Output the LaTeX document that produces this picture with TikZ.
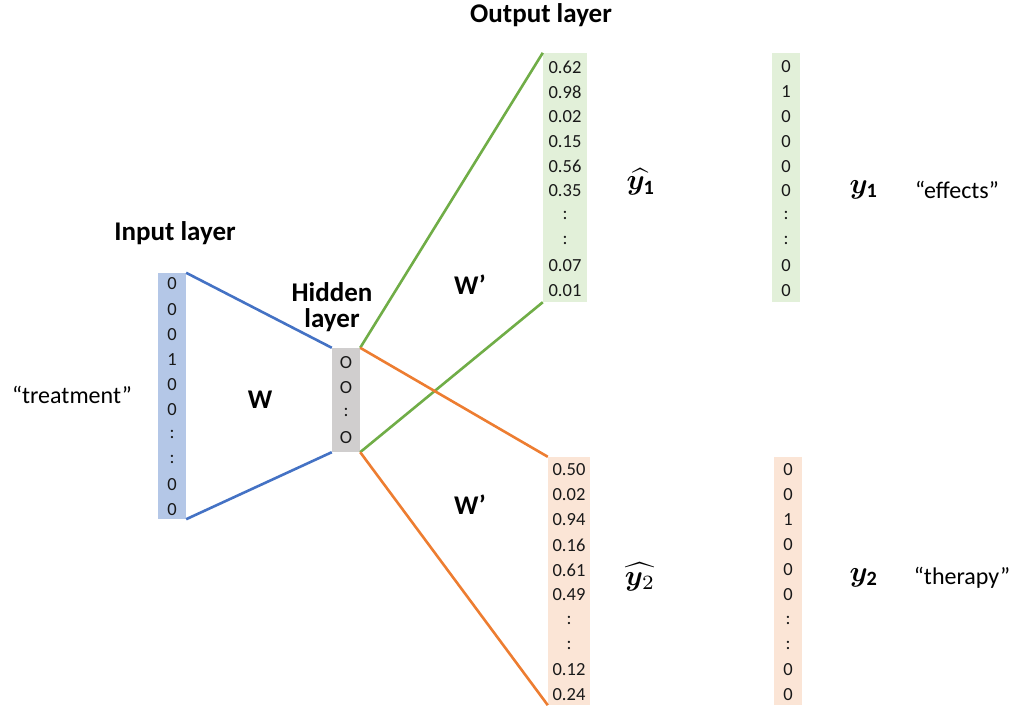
\documentclass[tikz,border=0pt]{standalone}
\usepackage{amsmath,bm}
\usepackage{fontspec}
\setmainfont{Carlito}
\begin{document}
\begin{tikzpicture}[x=1pt,y=-1pt,
  vec/.style={draw=none,inner sep=0pt,minimum width=#1},
  num/.style={font=\fontsize{18.5}{20}\selectfont,inner sep=0pt,text=black!90},
  lbl/.style={font=\fontsize{27}{30}\selectfont\bfseries,inner sep=0pt,align=center},
  word/.style={font=\fontsize{24}{28}\selectfont,inner sep=0pt},
  mth/.style={font=\normalsize,inner sep=0pt,scale=2.9},
  edge/.style={line width=2.6pt}]
\definecolor{inb}{HTML}{B4C7E7}
\definecolor{bl}{HTML}{4472C4}
\definecolor{gr}{HTML}{D0CECE}
\definecolor{gf}{HTML}{E2F0D9}
\definecolor{gl}{HTML}{70AD47}
\definecolor{of}{HTML}{FBE5D6}
\definecolor{ol}{HTML}{ED7D31}
\useasboundingbox (0,0) rectangle (1025,708);
% boxes
\node[vec=28pt,fill=inb,minimum height=246pt] (in) at (172,396) {};
\node[vec=28pt,fill=gr,minimum height=104pt] (hid) at (346,400) {};
\node[vec=44pt,fill=gf,minimum height=249pt] (out1) at (565,177.5) {};
\node[vec=42pt,fill=of,minimum height=248pt] (out2) at (569,581) {};
\node[vec=28pt,fill=gf,minimum height=249pt] (t1) at (786,177.5) {};
\node[vec=28pt,fill=of,minimum height=248pt] (t2) at (788,581) {};
% connectors
\draw[edge,bl] (in.north east) -- (hid.north west);
\draw[edge,bl] (in.south east) -- (hid.south west);
\draw[edge,gl] (hid.north east) -- (out1.north west);
\draw[edge,gl] (hid.south east) -- (out1.south west);
\draw[edge,ol] (hid.north east) -- (out2.north west);
\draw[edge,ol] (hid.south east) -- (out2.south west);
% entries
\foreach \v [count=\i from 0] in {0,0,0,1,0,0,:,:,0,0}
  \node[num] (in\i) at (172,{284+25.1*\i}) {\v};
\foreach \v [count=\i from 0] in {O,O,:,O}
  \node[num] (h\i) at (346,{363+24.7*\i}) {\v};
\foreach \v [count=\i from 0] in {0.62,0.98,0.02,0.15,0.56,0.35,:,:,0.07,0.01}
  \node[num] (o1\i) at (565,{67+24.8*\i}) {\v};
\foreach \v [count=\i from 0] in {0.50,0.02,0.94,0.16,0.61,0.49,:,:,0.12,0.24}
  \node[num] (o2\i) at (569,{470+25*\i}) {\v};
\foreach \v [count=\i from 0] in {0,1,0,0,0,0,:,:,0,0}
  \node[num] (t1\i) at (786,{67+24.8*\i}) {\v};
\foreach \v [count=\i from 0] in {0,0,1,0,0,0,:,:,0,0}
  \node[num] (t2\i) at (788,{470+25*\i}) {\v};
% labels
\node[lbl] (linput) at (175,233) {Input layer};
\node[lbl] (lhidden) at (332,307) {Hidden\\[-4pt]layer};
\node[lbl] (loutput) at (541,15) {Output layer};
\node[lbl] (lw) at (260,400) {W};
\node[lbl] (lw1) at (470,285) {W’};
\node[lbl] (lw2) at (470,505) {W’};
\node[word] (ltreat) at (72,395) {“treatment”};
\node[mth] (yh1) at (641,182) {$\widehat{\bm{y}_{\mathbf{1}}}$};
\node[mth] (y1) at (864,190) {$\bm{y}_{\mathbf{1}}$};
\node[word] (leff) at (957,190) {“effects”};
\node[mth] (yh2) at (640,577) {$\widehat{\bm{y}_{2}}$};
\node[mth] (y2) at (864,578) {$\bm{y}_{\mathbf{2}}$};
\node[word] (lther) at (962,578) {“therapy”};
\end{tikzpicture}
\end{document}
